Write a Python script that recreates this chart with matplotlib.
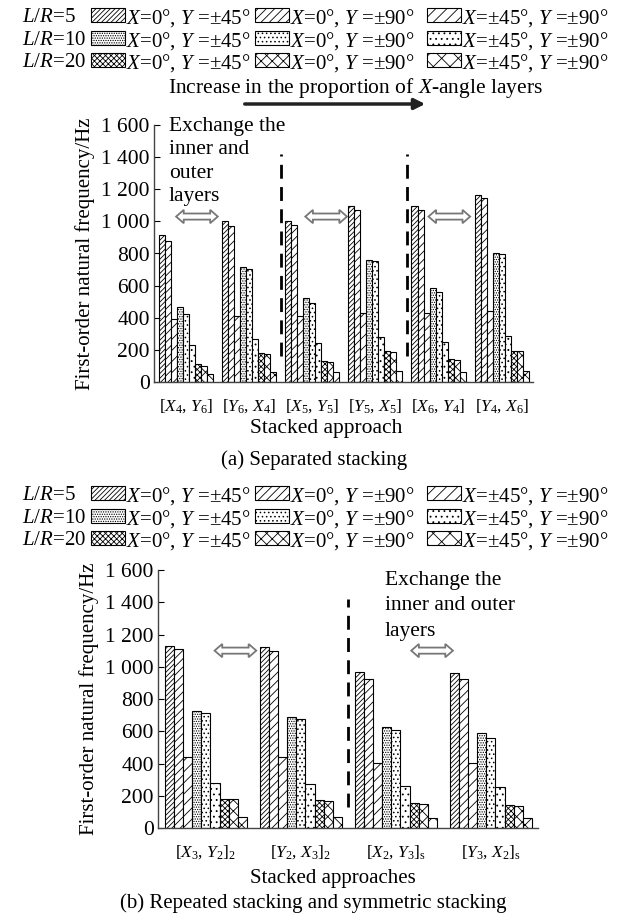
import matplotlib
matplotlib.use('Agg')
import matplotlib.pyplot as plt
import numpy as np
from matplotlib.patches import Rectangle, Polygon
from matplotlib.transforms import Affine2D, ScaledTranslation

plt.rcParams['font.family'] = ['Liberation Serif', 'DejaVu Serif']
plt.rcParams['mathtext.fontset'] = 'custom'
plt.rcParams['mathtext.rm'] = 'Liberation Serif'
plt.rcParams['mathtext.it'] = 'Liberation Serif:italic'
plt.rcParams['mathtext.bf'] = 'Liberation Serif:bold'
plt.rcParams['hatch.linewidth'] = 0.6

# ---------------- data ----------------
lr_labels = [r'$L/R$=5', r'$L/R$=10', r'$L/R$=20']
series_labels = [r'$X$=0°, $Y$ =±45°', r'$X$=0°, $Y$ =±90°', r'$X$=±45°, $Y$ =±90°']

cats_a = [r'[$X_4$, $Y_6$]', r'[$Y_6$, $X_4$]', r'[$X_5$, $Y_5$]',
          r'[$Y_5$, $X_5$]', r'[$X_6$, $Y_4$]', r'[$Y_4$, $X_6$]']
# columns: L/R=5 (3 series), L/R=10 (3 series), L/R=20 (3 series)
vals_a_g1 = [915, 875, 393, 467, 425, 232, 115, 102, 52]
vals_a_g2 = [1000, 970, 410, 715, 705, 270, 178, 172, 65]
vals_a_g3 = [1000, 975, 410, 525, 490, 240, 130, 122, 60]
vals_a_g4 = [1095, 1068, 430, 760, 755, 282, 190, 188, 68]
vals_a_g5 = [1095, 1068, 432, 585, 558, 252, 142, 138, 62]
vals_a_g6 = [1165, 1145, 440, 800, 795, 288, 195, 195, 70]

cats_b = [r'[$X_3$, $Y_2$]$_2$', r'[$Y_2$, $X_3$]$_2$',
          r'[$X_2$, $Y_3$]$_\mathrm{s}$', r'[$Y_3$, $X_2$]$_\mathrm{s}$']
vals_b_g1 = [1130, 1110, 440, 725, 712, 280, 180, 180, 70]
vals_b_g2 = [1120, 1100, 440, 688, 678, 275, 172, 168, 70]
vals_b_g3 = [968, 927, 406, 624, 608, 262, 155, 150, 62]
vals_b_g4 = [964, 927, 406, 587, 558, 255, 144, 138, 62]

yticks = [0, 200, 400, 600, 800, 1000, 1200, 1400, 1600]

hatches = [['///////', '////', '///'],
           ['.......', '....', '...'],
           ['xxxxxx', 'xxx', 'xx']]

W, H = 626, 913
FS = 15
fig = plt.figure(figsize=(W / 100, H / 100), dpi=100)


def fx(x):
    return x / W


def fy(y):
    return 1 - y / H


def draw_legend(rows_y):
    patch_x = [91, 255, 427]
    for i, lr in enumerate(lr_labels):
        y = rows_y[i]
        fig.text(fx(22), fy(y), lr, fontsize=FS, va='center_baseline', ha='left')
        for j, lab in enumerate(series_labels):
            px0 = patch_x[j]
            fig.add_artist(Rectangle((fx(px0), fy(y + 7)), 34 / W, 14 / H,
                                     transform=fig.transFigure, facecolor='white',
                                     edgecolor='black', hatch=hatches[i][j], lw=0.8))
            fig.text(fx(px0 + 35), fy(y), lab, fontsize=FS, va='center_baseline', ha='left')


def dbl_arrow(ax, cx, cy):
    L, hl, sh, hh = 15.0, 5.5, 2.2, 4.8  # points
    verts = [(-L, 0), (-L + hl, hh), (-L + hl, sh), (L - hl, sh), (L - hl, hh), (L, 0),
             (L - hl, -hh), (L - hl, -sh), (-L + hl, -sh), (-L + hl, -hh)]
    tr = Affine2D().scale(fig.dpi / 72.0) + ScaledTranslation(cx, cy, ax.transData)
    ax.add_patch(Polygon(verts, closed=True, transform=tr, facecolor='white',
                         edgecolor='#777777', lw=1.3, clip_on=False))


def panel(rect, cats, vals):
    ax = fig.add_axes(rect)
    vals = np.asarray(vals)
    n = len(cats)
    x = np.arange(n)
    w = 0.857 / 9
    for j in range(9):
        i_lr, i_s = divmod(j, 3)
        ax.bar(x + (j - 4) * w, vals[:, j], width=w, color='white', edgecolor='black',
               hatch=hatches[i_lr][i_s], lw=0.8)
    ax.set_xlim(-0.505, n - 0.505)
    ax.set_ylim(0, 1600)
    ax.set_yticks(yticks)
    ax.set_yticklabels([f'{v:,}'.replace(',', ' ') for v in yticks])
    for s in ['top', 'right']:
        ax.spines[s].set_visible(False)
    for s in ['left', 'bottom']:
        ax.spines[s].set_linewidth(1.0)
        ax.spines[s].set_color('#444444')
    ax.tick_params(axis='y', direction='in', length=4, labelsize=FS + 0.5, pad=3)
    ax.set_xticks(x)
    ax.set_xticklabels(cats)
    ax.tick_params(axis='x', length=0, pad=11, labelsize=12.5)
    ax.set_ylabel('First-order natural frequency/Hz', fontsize=FS)
    return ax


# ---------------- panel (a) ----------------
draw_legend([15, 38, 60])
fig.text(fx(355), fy(88), r'Increase in the proportion of $X$-angle layers',
         fontsize=FS + 0.5, ha='center', va='center')
fig.add_artist(matplotlib.patches.FancyArrowPatch(
    (fx(242), fy(104)), (fx(428), fy(104)), transform=fig.transFigure,
    arrowstyle='-|>', mutation_scale=16, lw=2.5, color='#222222'))

ax1 = panel([154 / W, 1 - 382 / H, 379 / W, 257 / H], cats_a,
            [vals_a_g1, vals_a_g2, vals_a_g3, vals_a_g4, vals_a_g5, vals_a_g6])
ax1.yaxis.set_label_coords(-0.155, 0.5)
for xd in [1.5, 3.5]:
    ax1.plot([xd, xd], [160, 1420], color='black', lw=2, dashes=(5, 3))
for cx in [0.175, 2.22, 4.17]:
    dbl_arrow(ax1, cx, 1030)
fig.text(fx(169), fy(117), 'Exchange the\ninner and\nouter\nlayers', fontsize=FS + 0.5,
         ha='left', va='top', linespacing=1.32)
fig.text(fx(326), fy(428), 'Stacked approach', fontsize=FS + 0.5, ha='center', va='center')
fig.text(fx(314), fy(460), '(a) Separated stacking', fontsize=FS, ha='center', va='center')

# ---------------- panel (b) ----------------
draw_legend([493, 516, 538])
ax2 = panel([158 / W, 1 - 828 / H, 380 / W, 258 / H], cats_b,
            [vals_b_g1, vals_b_g2, vals_b_g3, vals_b_g4])
ax2.yaxis.set_label_coords(-0.155, 0.5)
ax2.plot([1.5, 1.5], [130, 1420], color='black', lw=2, dashes=(5, 3))
for cx in [0.31, 2.38]:
    dbl_arrow(ax2, cx, 1100)
fig.text(fx(385), fy(571), 'Exchange the\ninner and outer\nlayers', fontsize=FS + 0.5,
         ha='left', va='top', linespacing=1.45)
fig.text(fx(333), fy(878), 'Stacked approaches', fontsize=FS, ha='center', va='center')
fig.text(fx(313), fy(903), '(b) Repeated stacking and symmetric stacking', fontsize=FS,
         ha='center', va='center')

fig.savefig('out.png', dpi=100)
